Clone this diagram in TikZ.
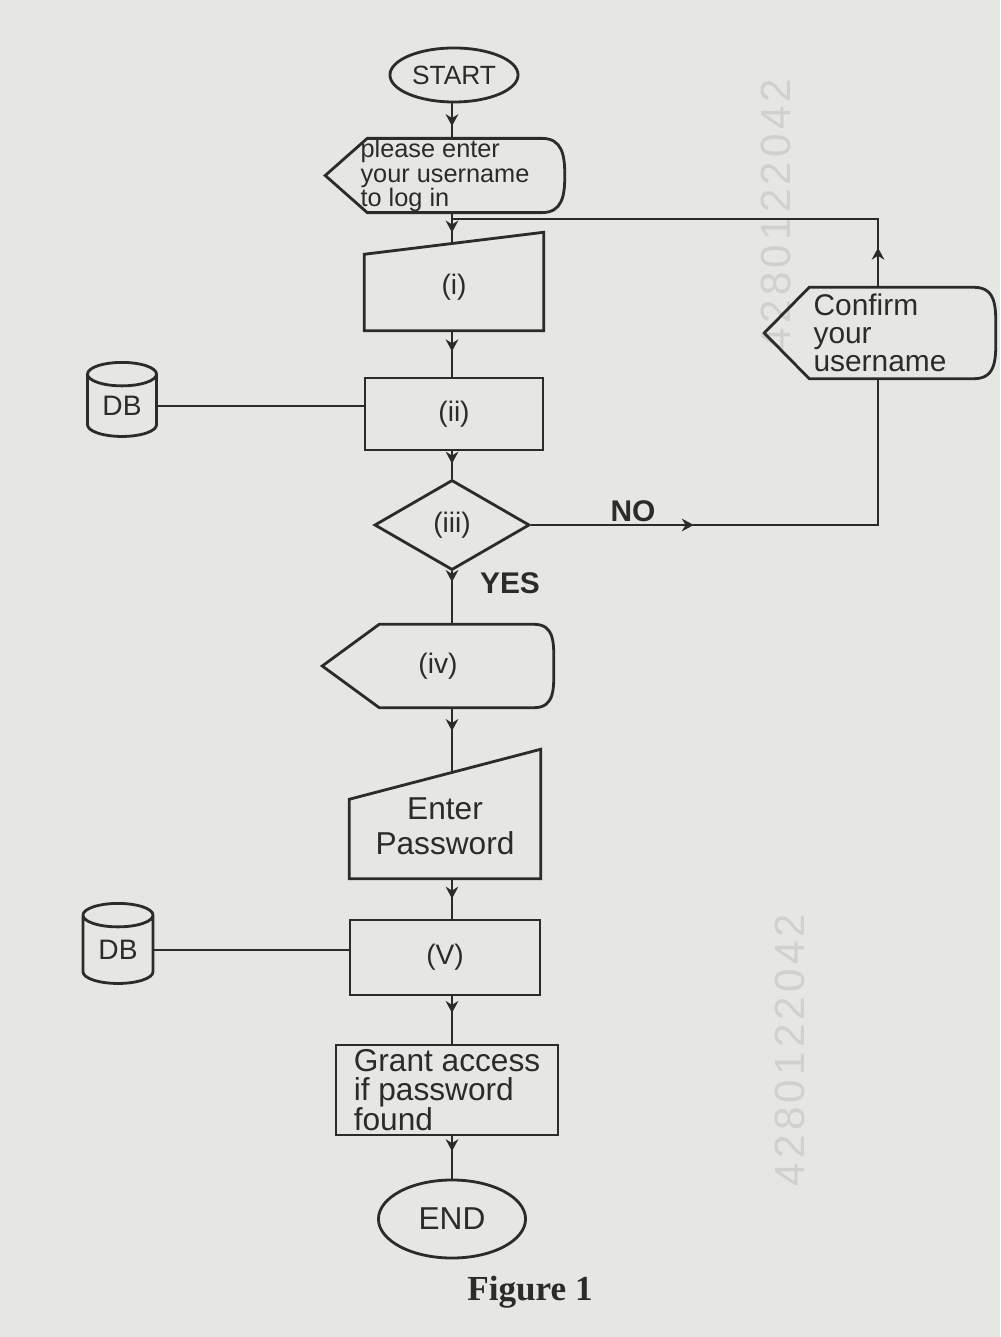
\documentclass[tikz,border=0pt]{standalone}
\usepackage{fontspec}
\setmainfont{Liberation Sans}
\newfontfamily\capfont{Liberation Serif}
\newfontfamily\wmfont[LetterSpace=10]{Liberation Sans}
\usetikzlibrary{shapes.geometric,arrows.meta,decorations.markings}

\definecolor{paper}{HTML}{E6E6E3}
\definecolor{ink}{HTML}{2B2B2B}
\definecolor{wmgray}{HTML}{D0D0CE}

\tikzset{
  outline/.style={draw=ink, line width=0.8pt},
  term/.style={outline, ellipse, inner sep=0pt},
  procbox/.style={outline, rectangle, inner sep=0pt},
  framed/.style={rectangle, inner sep=0pt},
  decide/.style={outline, diamond, inner sep=0pt},
  dbstore/.style={outline, cylinder, shape border rotate=90, aspect=0.6, inner sep=0pt,
    minimum width=0.69cm, minimum height=0.74cm},
  flow/.style={outline, postaction={decorate}, decoration={markings,
    mark=at position #1 with {\arrow{Stealth[length=3.4pt,width=3.6pt]}}}},
  flow/.default=0.5,
  stamp/.style={rotate=90, text=wmgray, font=\wmfont\fontsize{12}{12}\selectfont}
}

% display symbol: pointed left end, rounded right end
\newcommand{\dispframe}[3]{%
  \draw[outline] ([xshift=#2]#1.north west) -- ([xshift=-#3]#1.north east)
    to[out=0,in=90,looseness=1.2] (#1.east)
    to[out=-90,in=0,looseness=1.2] ([xshift=-#3]#1.south east)
    -- ([xshift=#2]#1.south west) -- (#1.west) -- cycle;}
% manual input symbol: slanted top
\newcommand{\manframe}[2]{%
  \draw[outline] (#1.south west) -- ([yshift=-#2]#1.north west)
    -- ([yshift=#2]#1.north east) -- (#1.south east) -- cycle;}

\begin{document}
\begin{tikzpicture}[x=0.01cm, y=0.01cm, font=\fontsize{8}{8}\selectfont, text=ink]
  \useasboundingbox (0,0) rectangle (1000,-1337);
  \fill[paper] (0,0) rectangle (1000,-1337);
  \node[stamp] (stampa) at (776,-215) {4280122042};
  \node[stamp] (stampb) at (790,-1050) {4280122042};

  \coordinate (col) at (452,0);
  \coordinate (loopx) at (878,0);
  \coordinate (join) at (452,-219);

  \node[term, minimum width=1.28cm, minimum height=0.54cm, font=\fontsize{7.5}{8}\selectfont] (start) at (454,-75) {START};
  \node[framed, minimum width=2.38cm, minimum height=0.65cm, align=left, font=\fontsize{7.2}{7}\selectfont] (ask) at (445,-175.5) {please enter\\your username\\to log in};
  \node[framed, minimum width=1.78cm, minimum height=0.86cm] (inp1) at (454,-287) {(i)};
  \node[procbox, minimum width=1.78cm, minimum height=0.72cm] (proc2) at (454,-414) {(ii)};
  \node[dbstore] (db1) at (122,-406) {DB};
  \node[decide, minimum width=1.55cm, minimum height=0.90cm] (dec) at (452,-525) {(iii)};
  \node[framed, minimum width=2.30cm, minimum height=0.90cm, align=left, font=\fontsize{8.5}{8}\selectfont] (confirm) at (880,-333) {Confirm\\your\\username};
  \node[framed, minimum width=2.30cm, minimum height=0.82cm] (show) at (438,-666) {(iv)};
  \node[framed, minimum width=1.90cm, minimum height=1.03cm, align=center, font=\fontsize{9}{10}\selectfont] (pwd) at (445,-826.5) {Enter\\Password};
  \node[procbox, minimum width=1.90cm, minimum height=0.75cm] (procv) at (445,-957.5) {(V)};
  \node[dbstore, minimum width=0.70cm, minimum height=0.80cm] (db2) at (118,-950) {DB};
  \node[procbox, minimum width=2.22cm, minimum height=0.90cm, align=left, font=\fontsize{9}{8.5}\selectfont] (grant) at (447,-1090) {Grant access\\if password\\found};
  \node[term, minimum width=1.47cm, minimum height=0.78cm, font=\fontsize{9}{9}\selectfont] (theend) at (452,-1219) {END};
  \node[font=\bfseries\fontsize{8.5}{9}\selectfont] (yes) at (510,-583) {YES};
  \node[font=\bfseries\fontsize{8.5}{9}\selectfont] (no) at (633,-511) {NO};
  \node[font=\capfont\bfseries\fontsize{10}{10}\selectfont] (caption) at (530,-1292) {Figure 1};

  \dispframe{ask}{0.42cm}{0.23cm}
  \dispframe{confirm}{0.45cm}{0.22cm}
  \dispframe{show}{0.57cm}{0.20cm}
  \manframe{inp1}{0.11cm}
  \manframe{pwd}{0.25cm}

  \draw[flow=0.65] (col |- start.south) -- (col |- ask.north);
  \draw[flow=0.65] (col |- ask.south) -- (col |- inp1.north);
  \draw[flow=0.45] (col |- inp1.south) -- (col |- proc2.north);
  \draw[flow=0.45] (col |- proc2.south) -- (dec.north);
  \draw[flow=0.2] (dec.south) -- (col |- show.north);
  \draw[flow=0.35] (col |- show.south) -- (col |- pwd.north);
  \draw[flow=0.5] (col |- pwd.south) -- (col |- procv.north);
  \draw[flow=0.35] (col |- procv.south) -- (col |- grant.north);
  \draw[flow=0.35] (col |- grant.south) -- (theend.north);
  \draw[flow=0.33] (dec.east) -| (loopx |- confirm.south);
  \draw[flow=0.08] (loopx |- confirm.north) |- (join);
  \draw[outline] (db1.east) -- (db1.east -| proc2.west);
  \draw[outline] (db2.east) -- (db2.east -| procv.west);
\end{tikzpicture}
\end{document}
